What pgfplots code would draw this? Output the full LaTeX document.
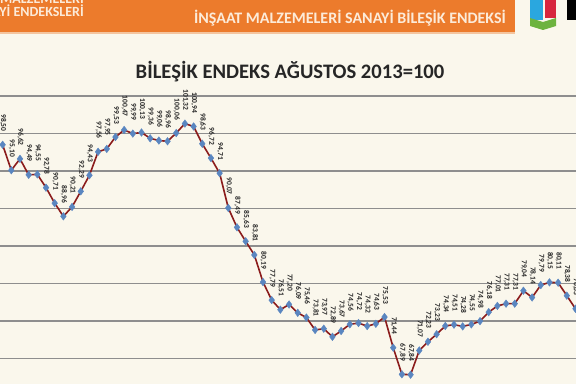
\documentclass[border=0pt]{standalone}
\usepackage{pgfplots}
\pgfplotsset{compat=1.18}
\usepackage{pgfplotstable}
\usepackage{fontspec}
\setmainfont{Carlito}
\definecolor{bg}{HTML}{FAF7EC}
\definecolor{heador}{HTML}{EC7B2C}
\definecolor{headtxt}{HTML}{FCEBD9}
\definecolor{gridc}{HTML}{8E8E8E}
\definecolor{linec}{HTML}{8B1C1C}
\definecolor{markc}{HTML}{5A86C0}
\definecolor{titlec}{HTML}{262626}
\definecolor{logob}{HTML}{2AA7DF}
\definecolor{logor}{HTML}{D7263D}
\definecolor{logog}{HTML}{6DB33F}
\pgfplotstableread{
i v
0 98.50
1 95.10
2 96.62
3 94.49
4 94.55
5 92.78
6 90.71
7 88.96
8 90.21
9 92.29
10 94.43
11 97.56
12 97.95
13 99.53
14 100.47
15 99.99
16 100.13
17 99.36
18 99.06
19 98.96
20 100.06
21 101.32
22 100.94
23 98.63
24 96.72
25 94.71
26 90.07
27 87.49
28 85.63
29 83.81
30 80.19
31 77.79
32 76.51
33 77.20
34 76.09
35 75.46
36 73.81
37 73.97
38 72.89
39 73.67
40 74.56
41 74.72
42 74.32
43 74.63
44 75.53
45 71.44
46 67.89
47 67.84
48 71.07
49 72.23
50 73.23
51 74.34
52 74.51
53 74.28
54 74.55
55 74.98
56 76.18
57 77.01
58 77.31
59 77.31
60 79.04
61 78.14
62 79.79
63 80.15
64 80.11
65 78.38
66 76.63
}\datatable
\begin{document}
\begin{tikzpicture}[x=1pt,y=1pt]
\useasboundingbox (0,0) rectangle (576,384);
\clip (0,0) rectangle (576,384);
\fill[bg] (0,0) rectangle (576,384);
% header band
\fill[heador] (0,352) rectangle (515,384);
\fill[heador!40!bg] (0,350) rectangle (515,352);
\node[anchor=base east, font=\bfseries\fontsize{14}{14}\selectfont, text=headtxt, inner sep=0pt] at (84,381) {İNŞAAT MALZEMELERİ};
\node[anchor=base east, font=\bfseries\fontsize{14}{14}\selectfont, text=headtxt, inner sep=0pt] at (84,367) {SANAYİ ENDEKSLERİ};
\node[anchor=base, font=\bfseries\fontsize{16}{16}\selectfont, text=headtxt, inner sep=0pt] at (350,360) {İNŞAAT MALZEMELERİ SANAYİ BİLEŞİK ENDEKSİ};
% logo
\fill[logob] (530,364) rectangle (543,384);
\fill[logor] (545,366) rectangle (556,384);
\fill[logog] (530,366) -- (543,362) -- (556,366) -- (556,358) -- (543,354) -- (530,358) -- cycle;
\fill[black] (567,364) rectangle (576,384);
% title
\node[anchor=base, font=\bfseries\fontsize{20.6}{20.6}\selectfont, text=titlec, inner sep=0pt] at (290,306) {BİLEŞİK ENDEKS AĞUSTOS 2013=100};
\begin{axis}[
  at={(-6.98,-6)}, anchor=south west,
  x=8.68pt, y=7.5pt,
  xmin=-1, xmax=67, ymin=66, ymax=107,
  axis line style={draw=none},
  xtick=\empty, ytick={70,75,...,105}, yticklabels={},
  major tick length=0pt,
  ymajorgrids, grid style={draw=gridc, line width=1.1pt},
  clip=false,
  nodes near coords={\pgfmathprintnumber[fixed,fixed zerofill,precision=2,use comma,assume math mode=true]{\pgfplotspointmeta}},
  point meta=y,
  every node near coord/.append style={yshift=13pt, xshift=0.5pt, rotate=-90, anchor=east, inner sep=0pt, font=\bfseries\fontsize{7.5}{7.5}\selectfont, text=black!85},
]
\addplot[color=linec, line width=1.6pt, mark=diamond*, mark size=3.8pt, mark options={fill=markc, draw=markc, line width=0.4pt}] table[x=i, y=v] {\datatable};
\end{axis}
\end{tikzpicture}
\end{document}
